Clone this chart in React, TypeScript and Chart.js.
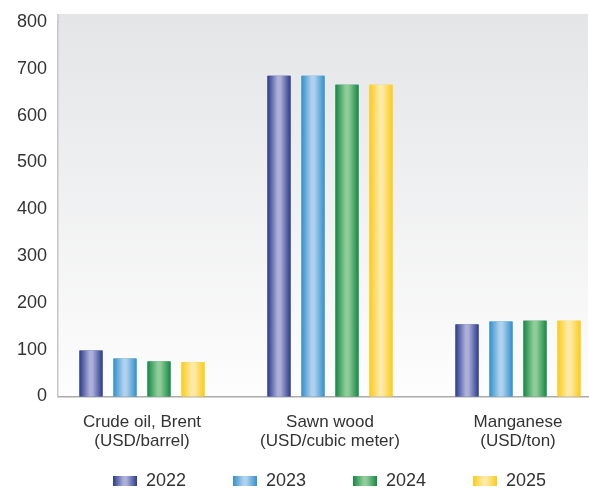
import React, { useEffect, useRef } from 'react';
import { Chart, registerables } from 'chart.js';

Chart.register(...registerables);

// ---- data ----
const categories: string[][] = [
  ['Crude oil, Brent', '(USD/barrel)'],
  ['Sawn wood', '(USD/cubic meter)'],
  ['Manganese', '(USD/ton)'],
];
const seriesNames = ['2022', '2023', '2024', '2025'];
const values2022 = [98, 685, 154];
const values2023 = [81, 685, 160];
const values2024 = [75, 666, 162];
const values2025 = [73, 666, 162];
const yTickValues = [0, 100, 200, 300, 400, 500, 600, 700, 800];

// ---- styles ----
const FONT_FAMILY = "'Liberation Sans', Arial, sans-serif";
const TICK_SIZE = 18;
const CAT_SIZE = 17;
const LEGEND_SIZE = 18;
const TEXT_COLOR = '#333333';
const barColors: [string, string][] = [
  ['#2c3b8c', '#acb0d9'],
  ['#3290cd', '#b0d1ec'],
  ['#168944', '#90cc9a'],
  ['#fbcb1a', '#fdeaa8'],
];

const LEGEND_BOX_W = 24;
const LEGEND_BOX_H = 10;
const LEGEND_FIRST_X = 113;
const LEGEND_TEXT_TOP = 472;
const LEGEND_STEP = 120;

function addStops(g: CanvasGradient, dark: string, light: string) {
  g.addColorStop(0, dark);
  g.addColorStop(0.44, light);
  g.addColorStop(0.56, light);
  g.addColorStop(1, dark);
}

function makePlugin(legendPad: number) {
  return {
    id: 'decor',
    afterLayout(chart: any) {
      const lg = chart.legend;
      if (!lg) return;
      const w = lg.right - lg.left;
      const totalW = 4 * LEGEND_STEP;
      // centered start = left + (pad + w - totalW)/2  -> choose left so first item is at LEGEND_FIRST_X
      const left = LEGEND_FIRST_X - (legendPad + w - totalW) / 2;
      lg.left = left;
      lg.right = left + w;
      const h = lg.bottom - lg.top;
      lg.top = LEGEND_TEXT_TOP - legendPad;
      lg.bottom = lg.top + h;
    },
    beforeDraw(chart: any) {
      const { ctx, chartArea } = chart;
      const { left, right, top, bottom } = chartArea;
      const t = top - 8;
      ctx.save();
      const g = ctx.createLinearGradient(0, t, 0, bottom);
      g.addColorStop(0, '#e4e5e7');
      g.addColorStop(1, '#fdfdfd');
      ctx.fillStyle = g;
      ctx.fillRect(left, t, right - left, bottom - t);
      ctx.strokeStyle = '#c6c6c6';
      ctx.lineWidth = 1.5;
      ctx.beginPath();
      ctx.moveTo(left, t);
      ctx.lineTo(left, top + 1);
      ctx.stroke();
      ctx.restore();
    },
    afterDatasetsDraw(chart: any) {
      const ctx = chart.ctx;
      ctx.save();
      chart.data.datasets.forEach((_ds: any, di: number) => {
        const meta = chart.getDatasetMeta(di);
        const [dark, light] = barColors[di];
        meta.data.forEach((el: any) => {
          const p = el.getProps(['x', 'y', 'base', 'width'], true);
          const l = p.x - p.width / 2;
          const g = ctx.createLinearGradient(l, 0, l + p.width, 0);
          addStops(g, dark, light);
          ctx.fillStyle = g;
          ctx.fillRect(l, Math.min(p.y, p.base), p.width, Math.abs(p.base - p.y));
        });
      });
      ctx.restore();
    },
    afterDraw(chart: any) {
      const lg = chart.legend;
      if (!lg || !lg.legendHitBoxes) return;
      const ctx = chart.ctx;
      ctx.save();
      lg.legendHitBoxes.forEach((hb: any, i: number) => {
        const [dark, light] = barColors[i];
        const top = hb.top + Math.max((LEGEND_SIZE - LEGEND_BOX_H) / 2, 0);
        const g = ctx.createLinearGradient(hb.left, 0, hb.left + LEGEND_BOX_W, 0);
        addStops(g, dark, light);
        ctx.fillStyle = g;
        ctx.fillRect(hb.left, top, LEGEND_BOX_W, LEGEND_BOX_H);
      });
      ctx.restore();
    },
  };
}

export default function App() {
  const ref = useRef<HTMLCanvasElement>(null);

  useEffect(() => {
    const canvas = ref.current;
    if (!canvas) return;

    // measure legend text so that items are spaced LEGEND_STEP apart
    const mctx = document.createElement('canvas').getContext('2d')!;
    mctx.font = `${LEGEND_SIZE}px ${FONT_FAMILY}`;
    const textW = mctx.measureText('2022').width;
    const legendPad = Math.max(LEGEND_STEP - (LEGEND_BOX_W + LEGEND_SIZE / 2 + textW), 4);

    const chartBottom = 396.5;
    const xScaleHeight = 62;
    const legendHeight = LEGEND_SIZE + legendPad + 10;
    const bottomPad = 489 - (chartBottom + xScaleHeight + legendHeight);

    const allSeries = [values2022, values2023, values2024, values2025];

    const chart = new Chart(canvas, {
      type: 'bar',
      data: {
        datasets: allSeries.map((vals, i) => ({
          label: seriesNames[i],
          data: vals.map((y, idx) => ({ x: idx, y })),
          backgroundColor: barColors[i][0],
          borderWidth: 0,
          categoryPercentage: 136 / 188,
          barPercentage: 23 / 34,
        })),
      },
      options: {
        animation: false,
        responsive: false,
        devicePixelRatio: 1,
        layout: { padding: { top: 22, left: 0, right: 1, bottom: bottomPad } },
        plugins: {
          tooltip: { enabled: false },
          legend: {
            position: 'bottom',
            fullSize: false,
            labels: {
              boxWidth: LEGEND_BOX_W,
              boxHeight: LEGEND_BOX_H,
              padding: legendPad,
              color: TEXT_COLOR,
              font: { family: FONT_FAMILY, size: LEGEND_SIZE },
            },
          },
        },
        scales: {
          x: {
            type: 'linear',
            bounds: 'data',
            offset: false,
            min: -84 / 188,
            max: -84 / 188 + 530 / 188,
            afterBuildTicks: (s: any) => {
              s.ticks = categories.map((_, i) => ({ value: i }));
            },
            afterFit: (s: any) => {
              s.height = xScaleHeight;
            },
            grid: { display: false, drawTicks: false, offset: false },
            border: { display: true, color: '#aaaaaa', width: 1.5 },
            ticks: {
              autoSkip: false,
              maxRotation: 0,
              minRotation: 0,
              padding: 16,
              color: TEXT_COLOR,
              font: { family: FONT_FAMILY, size: CAT_SIZE, lineHeight: 19 / 17 },
              callback: (v: any) => categories[Number(v)] ?? '',
            },
          },
          y: {
            min: 0,
            max: 800,
            afterBuildTicks: (s: any) => {
              s.ticks = yTickValues.map((v) => ({ value: v }));
            },
            afterFit: (s: any) => {
              s.width = 58;
            },
            grid: { display: false, drawTicks: false },
            border: { display: true, color: '#c6c6c6', width: 1.5 },
            ticks: {
              padding: 11,
              color: TEXT_COLOR,
              font: { family: FONT_FAMILY, size: TICK_SIZE },
            },
          },
        },
      },
      plugins: [makePlugin(legendPad)],
    } as any);

    return () => chart.destroy();
  }, []);

  return (
    <div style={{ position: 'absolute', left: 0, top: 0, width: 589, height: 489 }}>
      <canvas ref={ref} width={589} height={489} style={{ display: 'block', width: 589, height: 489 }} />
    </div>
  );
}
